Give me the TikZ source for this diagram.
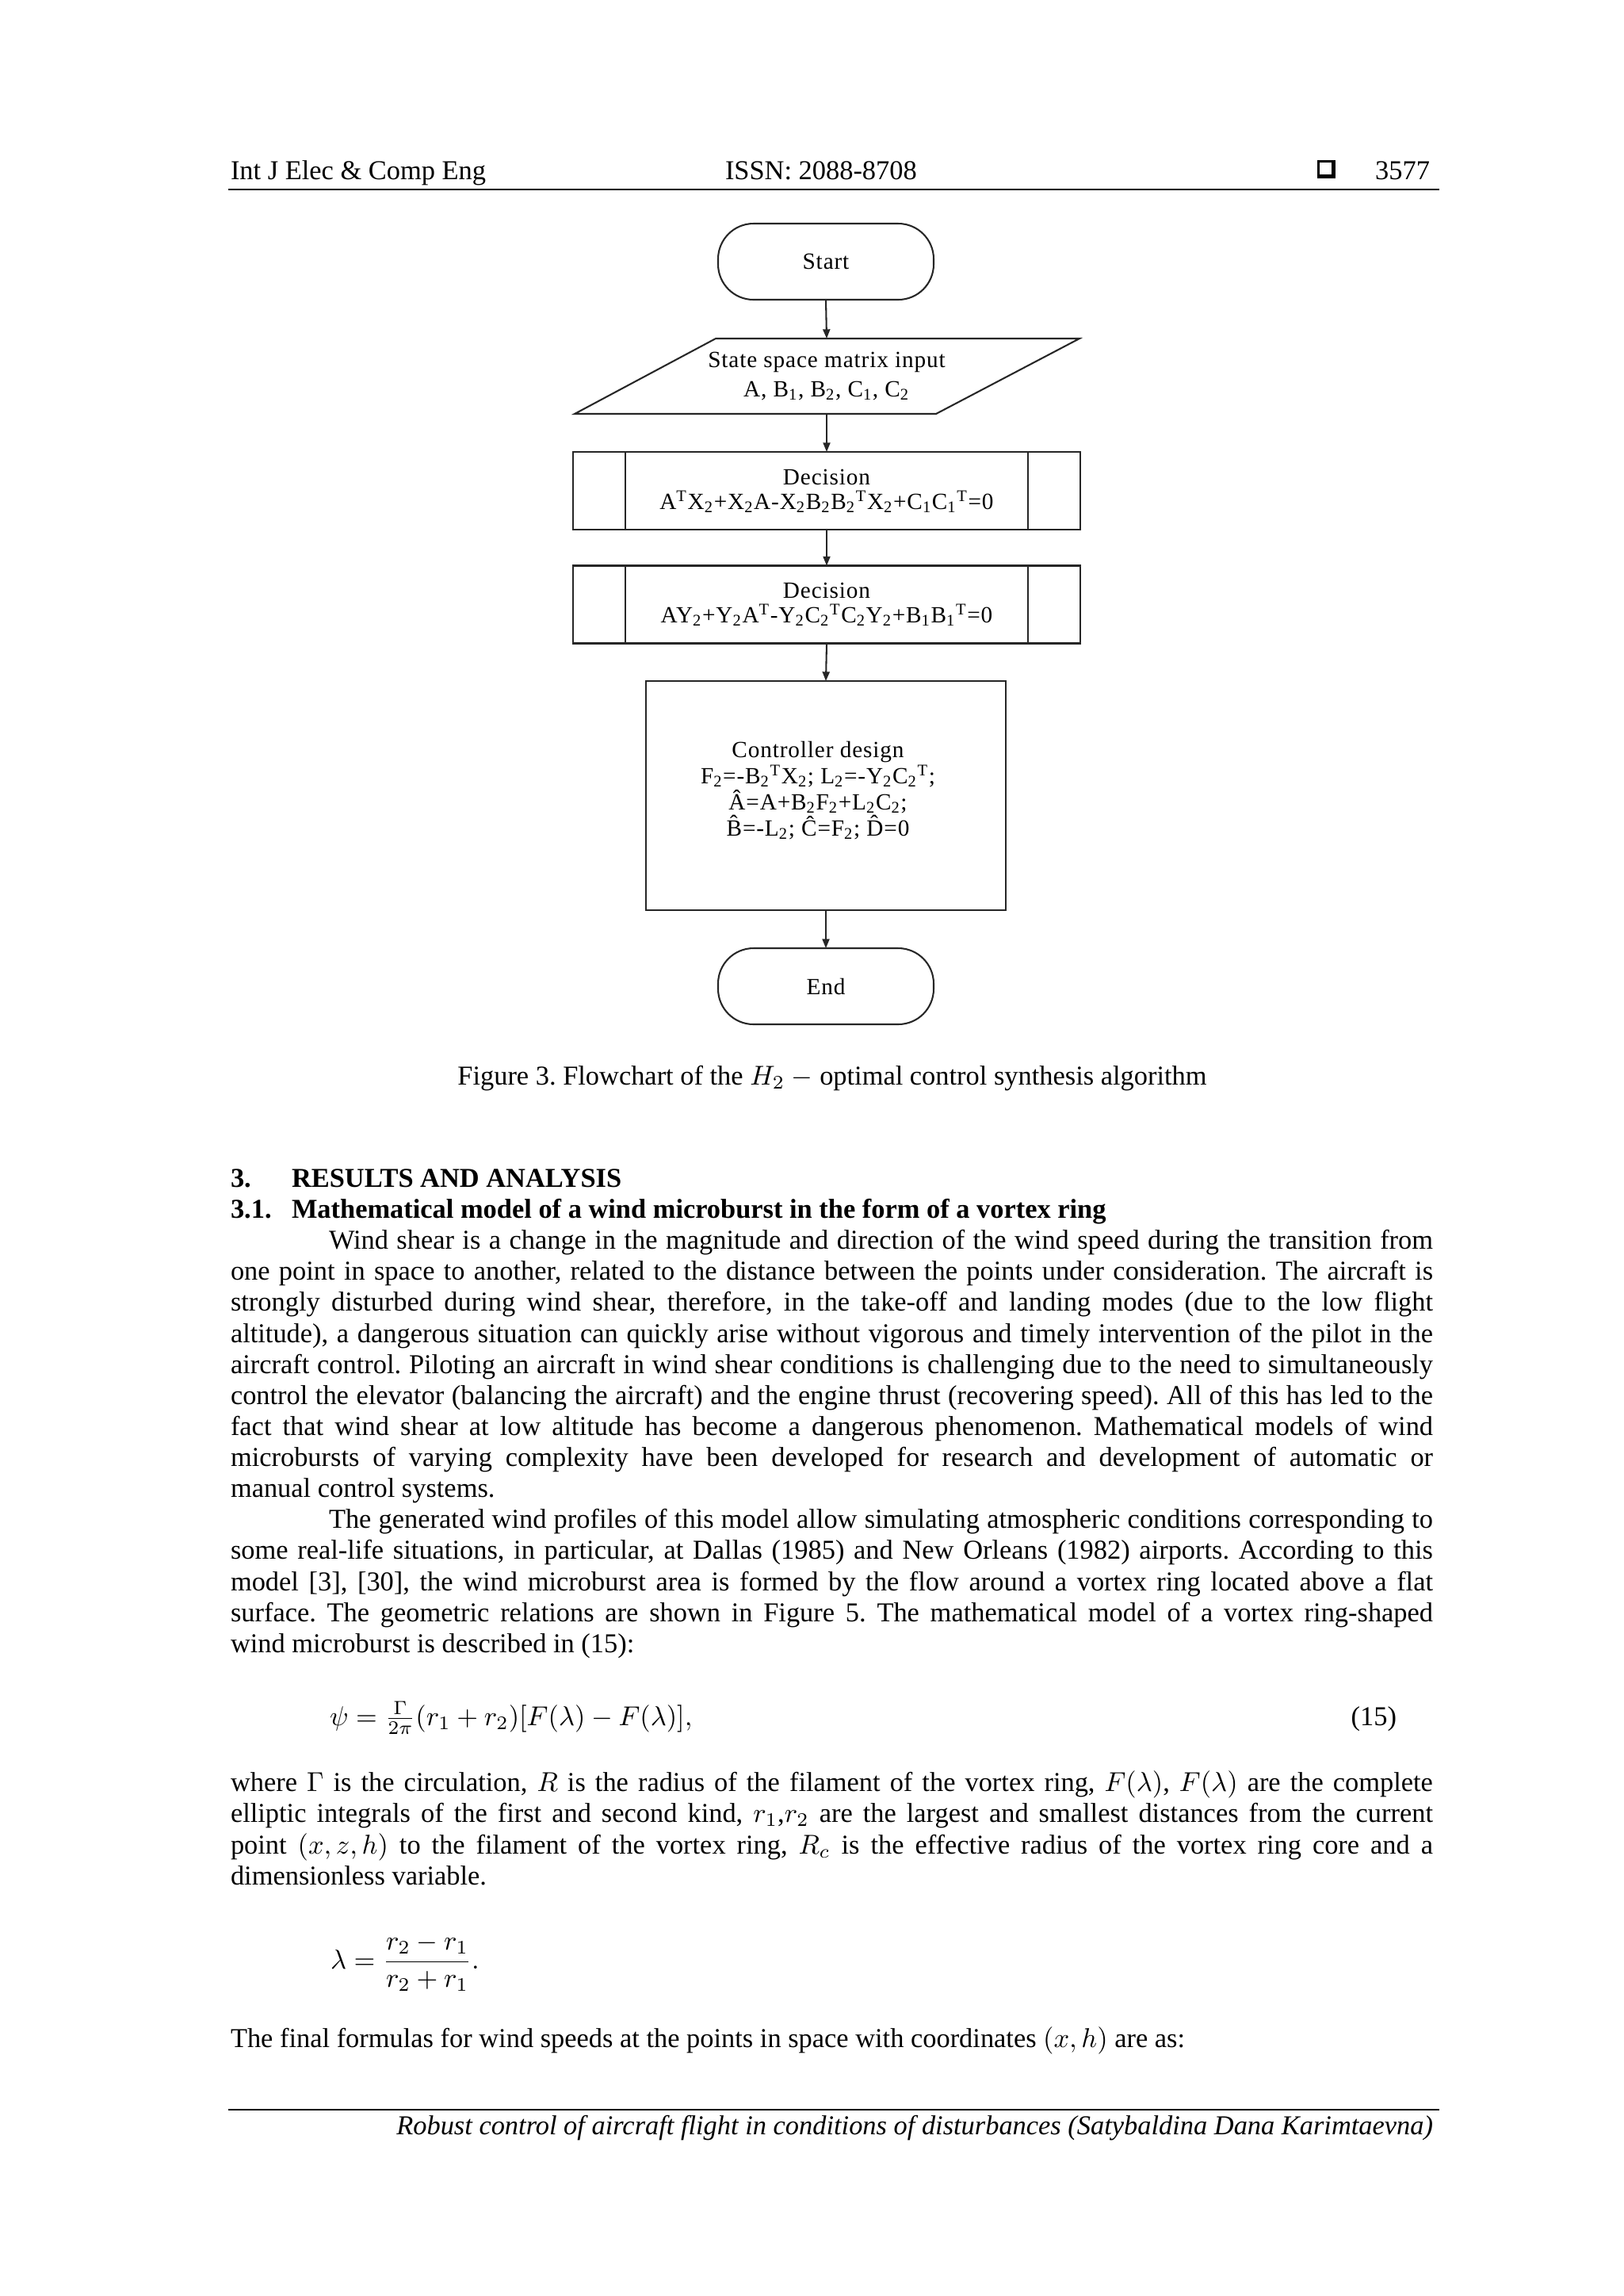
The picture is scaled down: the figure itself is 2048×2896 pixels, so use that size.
\documentclass[tikz,border=0pt]{standalone}
\usepackage{fontspec}
\setmainfont{Liberation Serif}
\newfontfamily\fcfont[LetterSpace=3]{Liberation Serif}
\usetikzlibrary{arrows.meta,calc}
\newdimen\pxu \pxu=0.29065pt
\frenchspacing
\newcommand{\jline}[3]{\node[txt] at (#1,#2) {\makebox[\dimexpr1808\pxu-#1\pxu\relax][s]{#3}};}
\newcommand{\pline}[3]{\node[txt] at (#1,#2) {#3};}
\begin{document}
\begin{tikzpicture}[x=0.29065pt,y=-0.29065pt,
  every node/.style={inner sep=0pt,outer sep=0pt},
  txt/.style={anchor=base west,font=\fontsize{10}{12}\selectfont\frenchspacing},
  fcfont/.style={font=\fcfont\fontsize{8.5}{#1}\selectfont},
  term/.style={draw=black!85,line width=0.6pt,rounded corners=13pt,minimum width=272*\pxu,minimum height=96*\pxu,fcfont=10},
  proc/.style={draw=black!85,line width=0.6pt,minimum width=640*\pxu,minimum height=98*\pxu,align=center,fcfont=9},
  flow/.style={line width=0.6pt,black!85,-{Triangle[width=2.6pt,length=3.4pt]}},
  rulestyle/.style={line width=0.85pt}
]
\useasboundingbox (0,0) rectangle (2048,2896);
\fill[white] (0,0) rectangle (2048,2896);

% header
\node[txt] (hl) at (291,226) {Int J Elec \& Comp Eng};
\node[txt] (hc) at (915,226) {ISSN: 2088-8708};
\node[txt,anchor=base east] (hr) at (1804,226) {3577};
\fill (1662,202) rectangle (1685,225);
\fill[white] (1665,205) rectangle (1680,220);
\coordinate (hrl) at (288,239);
\coordinate (hrr) at (1816,239);
\draw[rulestyle] (hrl) -- (hrr);

% flowchart
\node[term] (start) at (1042,330) {Start};
\node[minimum width=637*\pxu,minimum height=95*\pxu,align=center,fcfont=10.5] (input) at (1043,474.5)
  {State space matrix input\\ A, B\textsubscript{1}, B\textsubscript{2}, C\textsubscript{1}, C\textsubscript{2}};
\draw[line width=0.6pt,black!85] (725,522) -- (903,427) -- (1362,427) -- (1181,522) -- cycle;
\node[proc] (d1) at (1043,619)
  {Decision\\ A\textsuperscript{T}X\textsubscript{2}+X\textsubscript{2}A-X\textsubscript{2}B\textsubscript{2}B\textsubscript{2}\textsuperscript{T}X\textsubscript{2}+C\textsubscript{1}C\textsubscript{1}\textsuperscript{T}=0};
\draw[line width=0.6pt,black!85] ([xshift=66*\pxu]d1.north west) -- ([xshift=66*\pxu]d1.south west);
\draw[line width=0.6pt,black!85] ([xshift=-66*\pxu]d1.north east) -- ([xshift=-66*\pxu]d1.south east);
\node[proc] (d2) at (1043,762.5)
  {Decision\\ AY\textsubscript{2}+Y\textsubscript{2}A\textsuperscript{T}-Y\textsubscript{2}C\textsubscript{2}\textsuperscript{T}C\textsubscript{2}Y\textsubscript{2}+B\textsubscript{1}B\textsubscript{1}\textsuperscript{T}=0};
\draw[line width=0.6pt,black!85] ([xshift=66*\pxu]d2.north west) -- ([xshift=66*\pxu]d2.south west);
\draw[line width=0.6pt,black!85] ([xshift=-66*\pxu]d2.north east) -- ([xshift=-66*\pxu]d2.south east);
\node[draw=black!85,line width=0.6pt,minimum width=454*\pxu,minimum height=289*\pxu] (ctrl) at (1042,1003.5) {};
\node[align=center,fcfont=9.6] (ctrltext) at (1032,997)
  {Controller design\\
   F\textsubscript{2}=-B\textsubscript{2}\textsuperscript{T}X\textsubscript{2}; L\textsubscript{2}=-Y\textsubscript{2}C\textsubscript{2}\textsuperscript{T};\\
   \^{A}=A+B\textsubscript{2}F\textsubscript{2}+L\textsubscript{2}C\textsubscript{2};\\
   \^{B}=-L\textsubscript{2}; \^{C}=F\textsubscript{2}; \^{D}=0};
\node[term] (end) at (1042,1244) {End};

\draw[flow] (start.south) -- (input.north);
\draw[flow] (input.south) -- (d1.north);
\draw[flow] (d1.south) -- (d2.north);
\draw[flow] (d2.south) -- (ctrl.north);
\draw[flow] (ctrl.south) -- (end.north);

% caption
\node[txt,anchor=base] (cap) at (1050,1368) {Figure 3. Flowchart of the $H_2$ $-$ optimal control synthesis algorithm};

% section headings
\node[txt,font=\fontsize{10}{12}\selectfont\bfseries] at (291,1497) {3.};
\node[txt,font=\fontsize{10}{12}\selectfont\bfseries] at (368,1497) {RESULTS AND ANALYSIS};
\node[txt,font=\fontsize{10}{12}\selectfont\bfseries] at (291,1536) {3.1.};
\node[txt,font=\fontsize{10}{12}\selectfont\bfseries] at (368,1536) {Mathematical model of a wind microburst in the form of a vortex ring};

% paragraph 1
\jline{415}{1575}{Wind shear is a change in the magnitude and direction of the wind speed during the transition from}
\jline{291}{1614}{one point in space to another, related to the distance between the points under consideration. The aircraft is}
\jline{291}{1653}{strongly disturbed during wind shear, therefore, in the take-off and landing modes (due to the low flight}
\jline{291}{1693}{altitude), a dangerous situation can quickly arise without vigorous and timely intervention of the pilot in the}
\jline{291}{1732}{aircraft control. Piloting an aircraft in wind shear conditions is challenging due to the need to simultaneously}
\jline{291}{1771}{control the elevator (balancing the aircraft) and the engine thrust (recovering speed). All of this has led to the}
\jline{291}{1810}{fact that wind shear at low altitude has become a dangerous phenomenon. Mathematical models of wind}
\jline{291}{1849}{microbursts of varying complexity have been developed for research and development of automatic or}
\pline{291}{1888}{manual control systems.}

% paragraph 2
\jline{415}{1927}{The generated wind profiles of this model allow simulating atmospheric conditions corresponding to}
\jline{291}{1966}{some real-life situations, in particular, at Dallas (1985) and New Orleans (1982) airports. According to this}
\jline{291}{2006}{model [3], [30], the wind microburst area is formed by the flow around a vortex ring located above a flat}
\jline{291}{2045}{surface. The geometric relations are shown in Figure 5. The mathematical model of a vortex ring-shaped}
\pline{291}{2084}{wind microburst is described in (15):}

% equation 15
\node[txt,font=\fontsize{10}{14}\selectfont] (eq15) at (416,2176) {$\psi=\frac{\Gamma}{2\pi}(r_1+r_2)[F(\lambda)-F(\lambda)],$};
\node[txt,anchor=base east] (eq15n) at (1762,2176) {(15)};

% paragraph 3
\jline{291}{2259}{where $\Gamma$ is the circulation, $R$ is the radius of the filament of the vortex ring, $F(\lambda)$, $F(\lambda)$ are the complete}
\jline{291}{2298}{elliptic integrals of the first and second kind, $r_1$,$r_2$ are the largest and smallest distances from the current}
\jline{291}{2338}{point $(x,z,h)$ to the filament of the vortex ring, $R_c$ is the effective radius of the vortex ring core and a}
\pline{291}{2377}{dimensionless variable.}

% lambda
\node[txt,font=\fontsize{10}{13}\selectfont] (eql) at (417,2483) {$\lambda=\displaystyle\frac{r_2-r_1}{r_2+r_1}.$};

\pline{291}{2582}{The final formulas for wind speeds at the points in space with coordinates $(x,h)$ are as:}

% footer
\coordinate (frl) at (288,2661);
\coordinate (frr) at (1816,2661);
\draw[rulestyle] (frl) -- (frr);
\node[txt,anchor=base east,font=\fontsize{10}{12}\selectfont\itshape] (foot) at (1808,2692)
  {Robust control of aircraft flight in conditions of disturbances (Satybaldina Dana Karimtaevna)};
\end{tikzpicture}
\end{document}
